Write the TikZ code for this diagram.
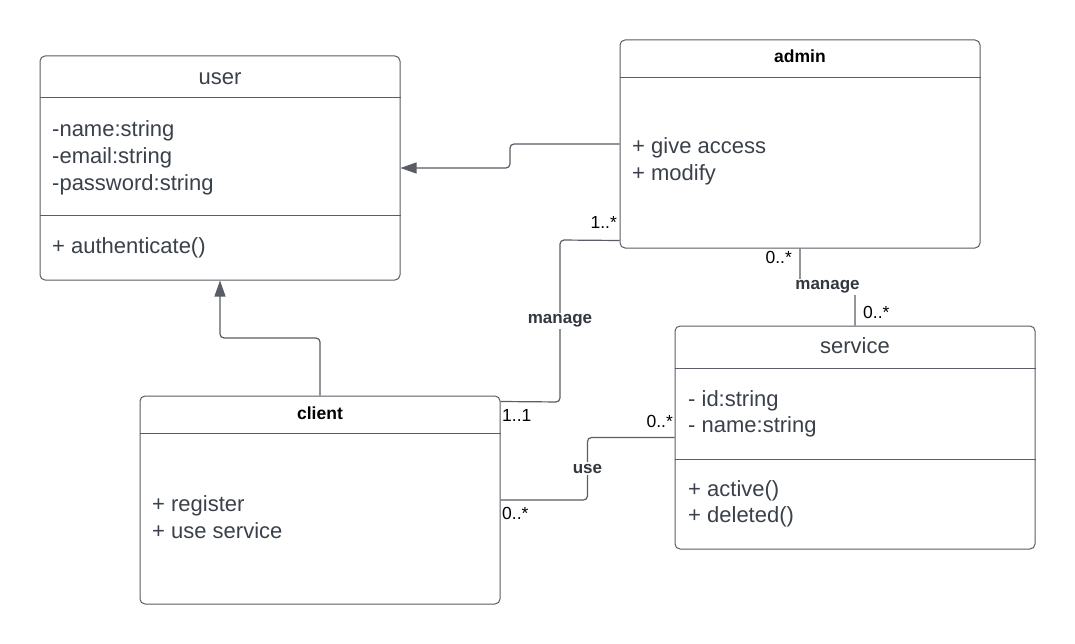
\documentclass[tikz,border=0pt]{standalone}
\usepackage{fontspec}
\setmainfont{Liberation Sans}
\usetikzlibrary{arrows.meta,calc}
\definecolor{ln}{HTML}{5A5D66}
\definecolor{tx}{HTML}{3A414A}
\definecolor{lb}{HTML}{33383F}
\begin{document}
\begin{tikzpicture}[x=1pt,y=-1pt,
 cls/.style={draw=ln,line width=1pt,rounded corners=5pt,rectangle,inner sep=0pt},
 body/.style={anchor=base west,inner sep=0pt,text=tx,font=\fontsize{22}{26}\selectfont},
 ttl/.style={anchor=base,inner sep=0pt,text=tx,font=\fontsize{22}{26}\selectfont},
 bttl/.style={anchor=base,inner sep=0pt,text=black,font=\bfseries\fontsize{17.5}{20}\selectfont},
 multw/.style={anchor=base west,inner sep=0pt,text=black,font=\fontsize{17.5}{20}\selectfont},
 multe/.style={anchor=base east,inner sep=0pt,text=black,font=\fontsize{17.5}{20}\selectfont},
 lbl/.style={fill=white,inner sep=2pt,text=lb,font=\bfseries\fontsize{17}{20}\selectfont},
 conn/.style={draw=ln,line width=1.2pt,rounded corners=4pt},
 divl/.style={draw=ln,line width=1pt},
 tip/.style={-{Triangle[length=16pt,width=11pt]}}
]
\useasboundingbox (0,0) rectangle (1075,644);
\fill[white] (0,0) rectangle (1075,644);

% boxes
\node[cls,minimum width=360pt,minimum height=224pt] (user) at (220,168) {};
\node[cls,minimum width=360pt,minimum height=208pt] (admin) at (800,144) {};
\node[cls,minimum width=360pt,minimum height=223pt] (service) at (855,437.5) {};
\node[cls,minimum width=360pt,minimum height=208pt] (client) at (320,500) {};

% dividers
\draw[divl] (user.west |- 0,98) -- (user.east |- 0,98);
\draw[divl] (user.west |- 0,216) -- (user.east |- 0,216);
\draw[divl] (admin.west |- 0,78) -- (admin.east |- 0,78);
\draw[divl] (service.west |- 0,368) -- (service.east |- 0,368);
\draw[divl] (service.west |- 0,459) -- (service.east |- 0,459);
\draw[divl] (client.west |- 0,433) -- (client.east |- 0,433);

% texts
\node[ttl] (userT) at (220,85) {user};
\node[body] (u1) at (52,136.5) {-name:string};
\node[body] (u2) at (52,163.5) {-email:string};
\node[body] (u3) at (52,190.5) {-password:string};
\node[body] (u4) at (52,254) {+ authenticate()};

\node[bttl] (adminT) at (800,63) {admin};
\node[body] (a1) at (632,154) {+ give access};
\node[body] (a2) at (632,181) {+ modify};

\node[ttl] (serviceT) at (855,353) {service};
\node[body] (s1) at (688,406) {- id:string};
\node[body] (s2) at (688,432) {- name:string};
\node[body] (s3) at (688,496) {+ active()};
\node[body] (s4) at (688,522) {+ deleted()};

\node[bttl] (clientT) at (320,419) {client};
\node[body] (c1) at (152,511) {+ register};
\node[body] (c2) at (152,538) {+ use service};

% connectors
\draw[conn,tip] (admin.west) -- (510,144) -- (510,168) -- (user.east);
\draw[conn,tip] (client.north) -- (320,338) -- (220,338) -- (user.south);

\coordinate (am) at ($(admin.south west)+(0,-8)$);
\coordinate (cm) at ($(client.north east)+(0,6)$);
\draw[conn] (am) -- (560,240) -- (560,402) -- (cm);
\node[lbl] (lblM1) at (560,321) {manage};

\coordinate (um) at ($(client.east)!0.5!(service.west)$);
\draw[conn] (client.east) -| (um) |- (service.west);
\node[lbl] (lblU) at (um) {use};

\coordinate (sm) at ($(admin.south)!0.5!(service.north)$);
\draw[conn] (admin.south) |- (sm) -| (service.north);
\node[lbl] (lblM2) at (sm) {manage};

% multiplicities
\node[multe] (m1) at (617,229) {1..*};
\node[multe] (m2) at (792,263) {0..*};
\node[multw] (m3) at (863,318) {0..*};
\node[multw] (m4) at (502,421) {1..1};
\node[multe] (m5) at (673,427) {0..*};
\node[multw] (m6) at (502,519) {0..*};
\end{tikzpicture}
\end{document}
